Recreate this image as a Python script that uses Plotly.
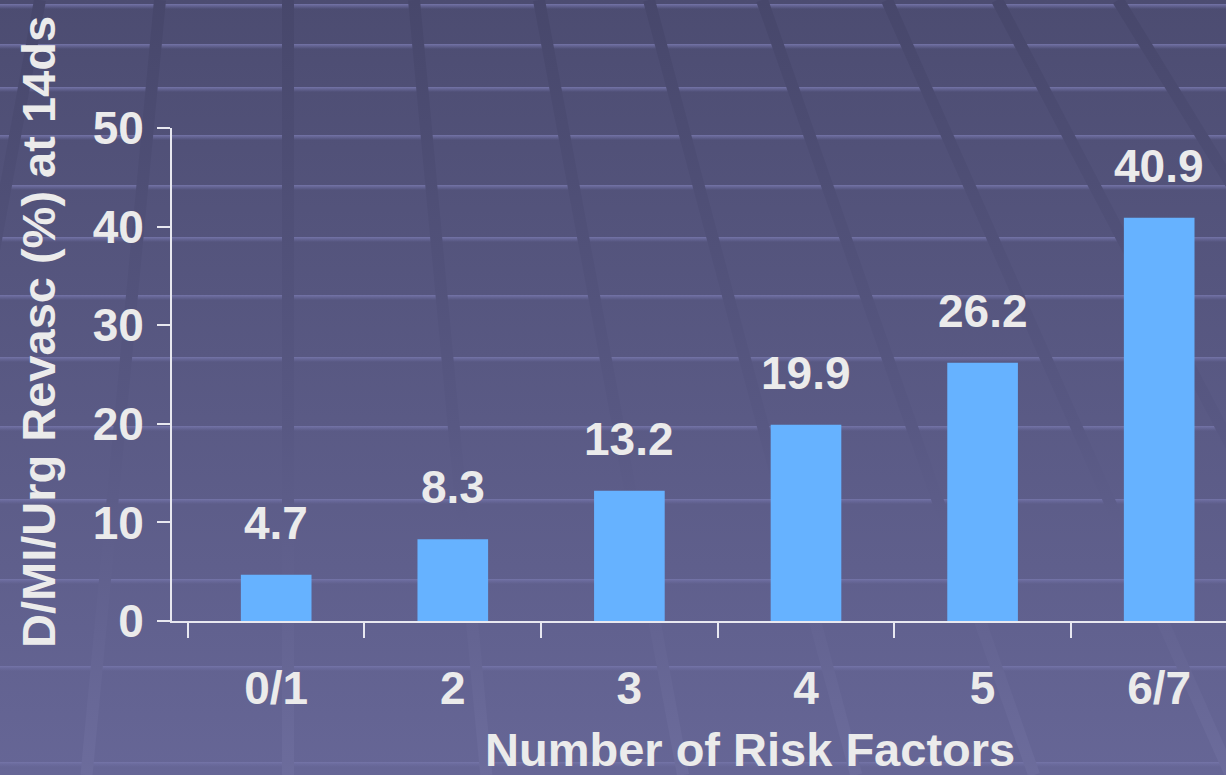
import base64
import plotly.graph_objects as go

# Data
categories = ["0/1", "2", "3", "4", "5", "6/7"]
event_rate = [4.7, 8.3, 13.2, 19.9, 26.2, 40.9]
y_ticks = [0, 10, 20, 30, 40, 50]

x_title = "Number of Risk Factors"
y_title = "D/MI/Urg Revasc (%) at 14ds"

# Page geometry
W, H = 1226, 775
ML, MR, MT, MB = 172, 0, 128, 154
PW, PH = W - ML - MR, H - MT - MB

FONT = "Liberation Sans, Arial, Helvetica, sans-serif"
TEXT = "#ebebeb"
BAR = "#66b2ff"
AXIS = "#e8e8f0"


def backdrop_svg():
    """Slide-style backdrop: vertical gradient, perspective tile grid."""
    parts = [
        f'<svg xmlns="http://www.w3.org/2000/svg" width="{W}" height="{H}" viewBox="0 0 {W} {H}">',
        "<defs>",
        '<linearGradient id="bg" x1="0" y1="0" x2="0" y2="1">'
        '<stop offset="0" stop-color="#4c4c71"/>'
        '<stop offset="1" stop-color="#666696"/></linearGradient>',
        '<linearGradient id="hl" x1="0" y1="0" x2="0" y2="1">'
        '<stop offset="0" stop-color="#7676aa" stop-opacity="0.95"/>'
        '<stop offset="0.45" stop-color="#6e6ea2" stop-opacity="0.6"/>'
        '<stop offset="1" stop-color="#6e6ea2" stop-opacity="0"/></linearGradient>',
        f'<linearGradient id="dg" gradientUnits="userSpaceOnUse" x1="0" y1="0" x2="0" y2="{H}">'
        '<stop offset="0" stop-color="#47476b"/>'
        '<stop offset="0.55" stop-color="#585883"/>'
        '<stop offset="1" stop-color="#6c6c9c"/></linearGradient>',
        "</defs>",
        f'<rect x="0" y="0" width="{W}" height="{H}" fill="url(#bg)"/>',
    ]
    # horizontal seams, spacing widening downwards
    for y in [5, 45, 88, 136, 186, 238, 296, 358, 427, 500, 580, 667, 763]:
        parts.append(f'<rect x="0" y="{y - 1}" width="{W}" height="5" fill="url(#hl)"/>')
    # converging seams toward a point above the page
    vx, vy = 288, -1350
    for x0 in [40, 160, 288, 414, 539, 649, 762, 887, 997, 1118]:
        x1 = x0 + (x0 - vx) * H / (0 - vy)
        parts.append(
            f'<line x1="{x0}" y1="0" x2="{x1:.1f}" y2="{H}" stroke="url(#dg)" stroke-width="12"/>'
        )
    parts.append("</svg>")
    return "".join(parts)


svg_uri = "data:image/svg+xml;base64," + base64.b64encode(backdrop_svg().encode()).decode()

fig = go.Figure()
fig.add_trace(
    go.Bar(
        x=categories,
        y=event_rate,
        marker=dict(color=BAR, line=dict(width=0)),
        width=0.4,
        hoverinfo="x+y",
    )
)

# value labels above each bar (category index as x position)
for i, val in enumerate(event_rate):
    fig.add_annotation(
        x=i, y=val, text=f"{val}", showarrow=False,
        yanchor="bottom", yshift=24,
        font=dict(family=FONT, size=46, color=TEXT, weight="bold"),
    )

# axis titles
fig.add_annotation(
    xref="paper", yref="paper", x=(750 - ML) / PW, y=(MT + PH - 749) / PH,
    text=x_title, showarrow=False, xanchor="center", yanchor="middle",
    font=dict(family=FONT, size=47, color=TEXT, weight="bold"),
)
fig.add_annotation(
    xref="paper", yref="paper", x=(38 - ML) / PW, y=(MT + PH - 332) / PH,
    text=y_title, showarrow=False, textangle=-90, xanchor="center", yanchor="middle",
    font=dict(family=FONT, size=47, color=TEXT, weight="bold"),
)

fig.add_layout_image(
    source=svg_uri, xref="paper", yref="paper",
    x=-ML / PW, y=1 + MT / PH, sizex=W / PW, sizey=H / PH,
    xanchor="left", yanchor="top", sizing="stretch", layer="below",
)

fig.update_layout(
    width=W, height=H,
    margin=dict(l=ML, r=MR, t=MT, b=MB, pad=0),
    paper_bgcolor="#58588a",
    plot_bgcolor="rgba(0,0,0,0)",
    showlegend=False,
    font=dict(family=FONT, size=46, color=TEXT, weight="bold"),
    xaxis=dict(
        type="category", range=[-0.59, -0.59 + PW / 176.6],
        tickson="boundaries", ticks="outside", ticklen=15, tickwidth=1.5,
        tickcolor=AXIS, showline=True, linecolor=AXIS, linewidth=2,
        showgrid=False, zeroline=False, ticklabelstandoff=26,
        tickfont=dict(family=FONT, size=46, color=TEXT, weight="bold"),
    ),
    yaxis=dict(
        range=[0, 50], tickvals=y_ticks, ticks="outside", ticklen=13, tickwidth=1.5,
        tickcolor=AXIS, showline=True, linecolor=AXIS, linewidth=2,
        showgrid=False, zeroline=False, ticklabelstandoff=4,
        tickfont=dict(family=FONT, size=46, color=TEXT, weight="bold"),
    ),
)

fig.write_html("out.html")
